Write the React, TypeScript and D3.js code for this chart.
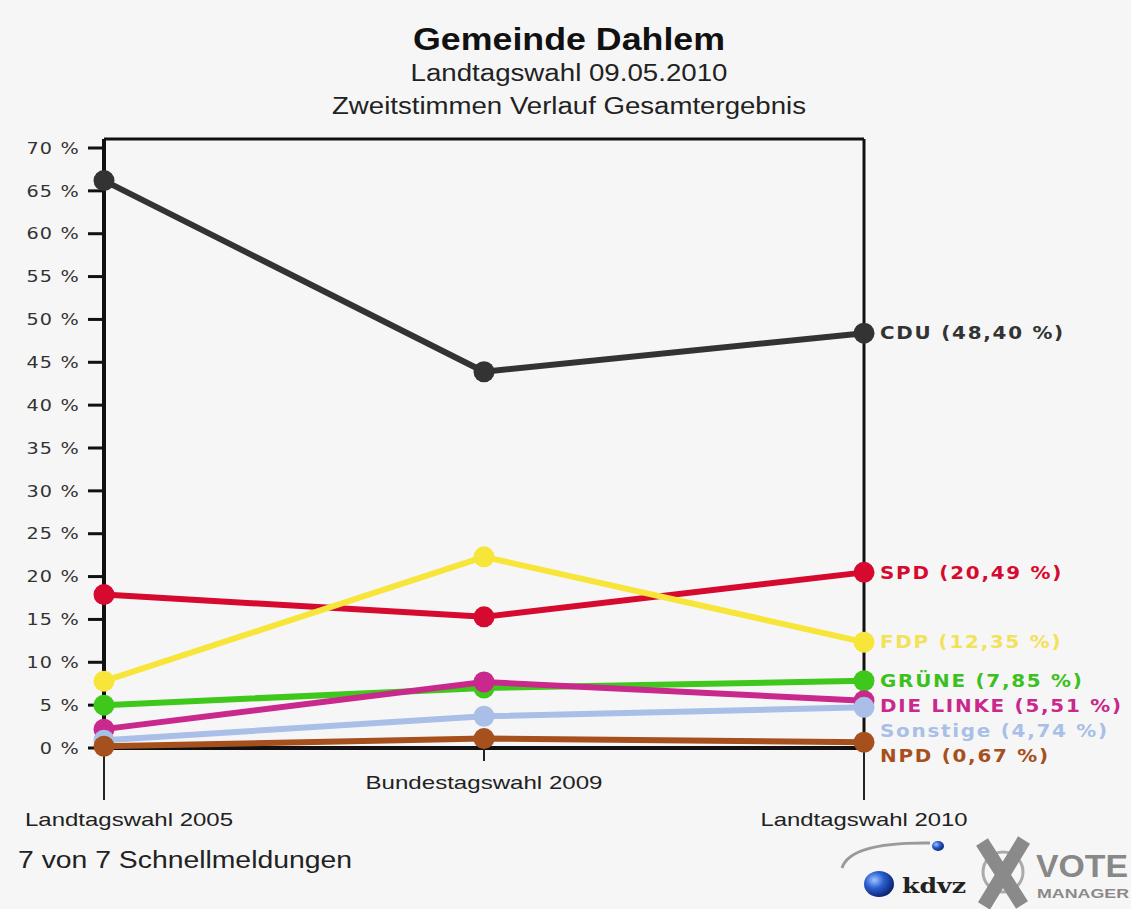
import React from "react";
import * as d3 from "d3";

const elections = ["Landtagswahl 2005", "Bundestagswahl 2009", "Landtagswahl 2010"];
const parties = ["CDU", "SPD", "FDP", "GRÜNE", "DIE LINKE", "Sonstige", "NPD"];
const colors = ["#333333", "#d60a2e", "#f7e53a", "#3fc81c", "#c9288d", "#a9bfe8", "#a6501d"];
const cdu = [66.2, 43.9, 48.4];
const spd = [17.9, 15.3, 20.49];
const fdp = [7.8, 22.3, 12.35];
const gruene = [5.0, 7.0, 7.85];
const linke = [2.2, 7.7, 5.51];
const sonstige = [0.9, 3.7, 4.74];
const npd = [0.2, 1.1, 0.67];
const yTicks = [0, 5, 10, 15, 20, 25, 30, 35, 40, 45, 50, 55, 60, 65, 70];
const finalLabels = ["48,40", "20,49", "12,35", "7,85", "5,51", "4,74", "0,67"];

const series = [cdu, spd, fdp, gruene, linke, sonstige, npd];

const W = 1131;
const H = 909;
const FONT = "'DejaVu Sans', Verdana, sans-serif";

export default function App() {
  const x = d3.scalePoint<string>().domain(elections).range([104, 864]);
  const y = d3.scaleLinear().domain([0, 70]).range([748, 148]);
  const line = d3
    .line<number>()
    .x((_, i) => x(elections[i]) as number)
    .y((v) => y(v));

  const xL = x(elections[0]) as number;
  const xM = x(elections[1]) as number;
  const xR = x(elections[2]) as number;
  const top = y(70) - 9;
  const bottom = y(0);

  // label placement with collision avoidance (push downwards)
  const order = series
    .map((s, i) => ({ i, yv: y(s[2]) }))
    .sort((a, b) => a.yv - b.yv);
  const labelY: number[] = [];
  let prev = -Infinity;
  for (const o of order) {
    const ly = Math.max(o.yv, prev + 25);
    labelY[o.i] = ly;
    prev = ly;
  }
  const labelColors = ["#333333", "#d60a2e", "#f2e25a", "#3cc020", "#c9288d", "#a9bfe8", "#a6501d"];

  return (
    <svg
      width={W}
      height={H}
      style={{ position: "absolute", left: 0, top: 0, background: "#f6f6f6" }}
    >
      <rect x={0} y={0} width={W} height={H} fill="#f6f6f6" />
      {/* Titles */}
      <text x={569} y={50} textAnchor="middle" fontFamily="'Liberation Sans', Arial, sans-serif" fontWeight="bold" fontSize={31} fill="#111" textLength={312} lengthAdjust="spacingAndGlyphs">
        Gemeinde Dahlem
      </text>
      <text x={569} y={81} textAnchor="middle" fontFamily="'Liberation Sans', Arial, sans-serif" fontSize={23} fill="#222" textLength={317} lengthAdjust="spacingAndGlyphs">
        Landtagswahl 09.05.2010
      </text>
      <text x={569} y={114} textAnchor="middle" fontFamily="'Liberation Sans', Arial, sans-serif" fontSize={23} fill="#222" textLength={474} lengthAdjust="spacingAndGlyphs">
        Zweitstimmen Verlauf Gesamtergebnis
      </text>

      {/* Frame */}
      <line x1={xL} x2={xR} y1={top} y2={top} stroke="#111" strokeWidth={3} />
      <line x1={xR} x2={xR} y1={top} y2={bottom} stroke="#111" strokeWidth={3} />
      <line x1={xL} x2={xL} y1={top} y2={bottom} stroke="#111" strokeWidth={4} />
      <line x1={xL} x2={xR} y1={bottom} y2={bottom} stroke="#111" strokeWidth={4} />
      {/* extension ticks */}
      <line x1={xL} x2={xL} y1={bottom} y2={800} stroke="#222" strokeWidth={2} />
      <line x1={xR} x2={xR} y1={bottom} y2={800} stroke="#222" strokeWidth={2} />
      <line x1={xM} x2={xM} y1={bottom} y2={761} stroke="#222" strokeWidth={2} />

      {/* Y ticks */}
      {yTicks.map((t) => (
        <g key={t}>
          <line x1={88} x2={xL} y1={y(t)} y2={y(t)} stroke="#111" strokeWidth={3} />
          <text transform={`translate(80,${y(t)}) scale(1.2,1)`} dy="0.36em" textAnchor="end" fontFamily={FONT} fontSize={16} fill="#333" letterSpacing={1}>
            {`${t} %`}
          </text>
        </g>
      ))}

      {/* Series */}
      {series.map((s, i) => (
        <g key={parties[i]}>
          <path d={line(s) || ""} fill="none" stroke={colors[i]} strokeWidth={6} strokeLinejoin="round" />
          {s.map((v, j) => (
            <circle key={j} cx={x(elections[j]) as number} cy={y(v)} r={10.5} fill={colors[i]} />
          ))}
        </g>
      ))}

      {/* End labels */}
      {series.map((s, i) => (
        <text key={parties[i]} transform={`translate(880,${labelY[i]}) scale(1.17,1)`} dy="0.36em" fontFamily={FONT} fontWeight="bold" fontSize={17} fill={labelColors[i]} letterSpacing={1.5}>
          {`${parties[i]} (${finalLabels[i]} %)`}
        </text>
      ))}

      {/* Category labels */}
      <text x={25} y={826} fontFamily="'Liberation Sans', Arial, sans-serif" fontSize={19} fill="#222" textLength={208} lengthAdjust="spacingAndGlyphs">
        {elections[0]}
      </text>
      <text x={xM} y={789} textAnchor="middle" fontFamily="'Liberation Sans', Arial, sans-serif" fontSize={19} fill="#222" textLength={237} lengthAdjust="spacingAndGlyphs">
        {elections[1]}
      </text>
      <text x={xR} y={826} textAnchor="middle" fontFamily="'Liberation Sans', Arial, sans-serif" fontSize={19} fill="#222" textLength={207} lengthAdjust="spacingAndGlyphs">
        {elections[2]}
      </text>

      {/* Footer */}
      <text x={18} y={868} fontFamily="'Liberation Sans', Arial, sans-serif" fontSize={23} fill="#222" textLength={334} lengthAdjust="spacingAndGlyphs">
        7 von 7 Schnellmeldungen
      </text>

      {/* Logo */}
      <defs>
        <radialGradient id="ball" cx="35%" cy="35%" r="70%">
          <stop offset="0%" stopColor="#9fc4ff" />
          <stop offset="45%" stopColor="#2a5fd0" />
          <stop offset="100%" stopColor="#0a1f6a" />
        </radialGradient>
      </defs>
      <path d="M 842 868 Q 850 842 930 843" fill="none" stroke="#9a9a9a" strokeWidth={3} />
      <ellipse cx={938} cy={846} rx={6} ry={5} fill="url(#ball)" />
      <ellipse cx={879} cy={884} rx={15} ry={13} fill="url(#ball)" />
      <text x={902} y={893} fontFamily="'DejaVu Serif', serif" fontWeight="bold" fontSize={20} fill="#222" textLength={64} lengthAdjust="spacingAndGlyphs">
        kdvz
      </text>
      <circle cx={1003} cy={872} r={20} fill="none" stroke="#aaa" strokeWidth={3} />
      <path d="M 982 842 L 1022 905 M 1024 840 L 984 906" stroke="#8a8a8a" strokeWidth={14} strokeLinecap="butt" />
      <text x={1036} y={877} fontFamily="'Liberation Sans', Arial, sans-serif" fontWeight="bold" fontSize={31} fill="#888" textLength={92} lengthAdjust="spacingAndGlyphs">
        VOTE
      </text>
      <text x={1037} y={898} fontFamily="'Liberation Sans', Arial, sans-serif" fontWeight="bold" fontSize={12.5} fill="#8a8a8a" textLength={92} lengthAdjust="spacingAndGlyphs">
        MANAGER
      </text>
    </svg>
  );
}
